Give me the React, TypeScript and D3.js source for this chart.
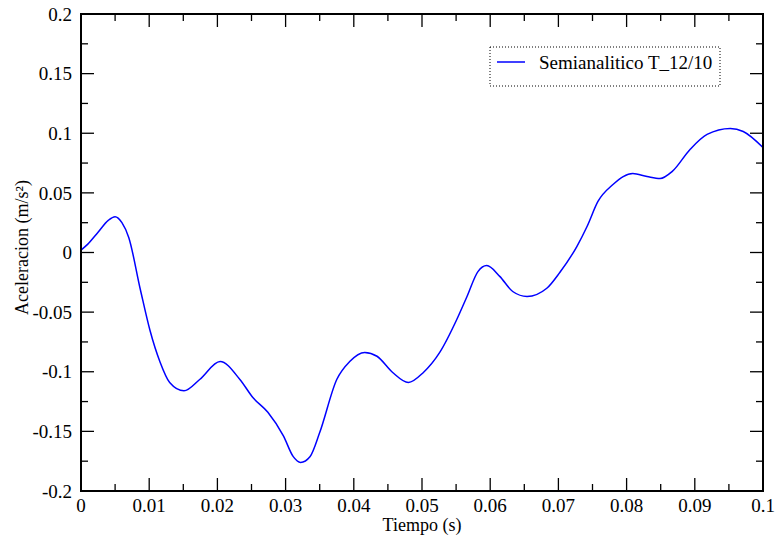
import React from "react";
import * as d3 from "d3";

const width = 776;
const height = 542;
const margin = { top: 14, right: 13, bottom: 51, left: 81 };

// tiempo (s)
const tiempo = [
  0, 0.001, 0.0025, 0.004, 0.005, 0.006, 0.007, 0.0087, 0.0101, 0.0116, 0.013,
  0.0151, 0.0174, 0.0204, 0.0233, 0.0252, 0.0274, 0.0297, 0.0311, 0.0322,
  0.0336, 0.035, 0.0375, 0.0394, 0.0416, 0.0434, 0.0457, 0.048, 0.0502,
  0.0526, 0.0551, 0.0566, 0.0582, 0.0595, 0.0614, 0.0633, 0.0654, 0.0683,
  0.0702, 0.0727, 0.0742, 0.0758, 0.078, 0.0795, 0.0809, 0.083, 0.0849,
  0.0867, 0.0893, 0.0918, 0.0952, 0.0971, 0.1,
];
// aceleracion (m/s2)
const aceleracion = [
  0.002, 0.007, 0.017, 0.027, 0.03, 0.025, 0.0126, -0.031, -0.065, -0.092,
  -0.109, -0.116, -0.1065, -0.0914, -0.1065, -0.1216, -0.134, -0.154, -0.171,
  -0.176, -0.171, -0.151, -0.1065, -0.0914, -0.0838, -0.087, -0.1006, -0.109,
  -0.1006, -0.0838, -0.0562, -0.0369, -0.016, -0.011, -0.02, -0.0327, -0.0369,
  -0.03, -0.0168, 0.005, 0.0218, 0.0428, 0.057, 0.0637, 0.0662, 0.0637, 0.062,
  0.068, 0.0864, 0.099, 0.104, 0.1015, 0.088,
];

const xTicks = [0, 0.01, 0.02, 0.03, 0.04, 0.05, 0.06, 0.07, 0.08, 0.09, 0.1];
const xTickLabels = ["0", "0.01", "0.02", "0.03", "0.04", "0.05", "0.06", "0.07", "0.08", "0.09", "0.1"];
const yTicks = [-0.2, -0.15, -0.1, -0.05, 0, 0.05, 0.1, 0.15, 0.2];
const yTickLabels = ["-0.2", "-0.15", "-0.1", "-0.05", "0", "0.05", "0.1", "0.15", "0.2"];
const seriesName = "Semianalitico T_12/10";

const font = "'Liberation Serif', 'Times New Roman', serif";

export default function App() {
  const x = d3.scaleLinear().domain([0, 0.1]).range([margin.left, width - margin.right]);
  const y = d3.scaleLinear().domain([-0.2, 0.2]).range([height - margin.bottom, margin.top]);
  const x0 = margin.left, x1 = width - margin.right;
  const y0 = height - margin.bottom, y1 = margin.top;

  const pts: [number, number][] = tiempo.map((t, i) => [t, aceleracion[i]]);
  const line = d3
    .line<[number, number]>()
    .x((d) => x(d[0]))
    .y((d) => y(d[1]))
    .curve(d3.curveMonotoneX);

  const xMinor = d3.range(0.005, 0.1, 0.01);
  const yMinor = d3.range(-0.175, 0.2, 0.05);
  const major = 13, minor = 7;

  return (
    <svg width={width} height={height} style={{ position: "absolute", left: 0, top: 0 }}>
      <rect width={width} height={height} fill="#fff" />
      <path d={line(pts) ?? ""} fill="none" stroke="#0000ff" strokeWidth={1.5} />

      <g stroke="#000" strokeWidth={1.3}>
        {xTicks.map((t) => (
          <g key={"xt" + t}>
            <line x1={x(t)} x2={x(t)} y1={y0} y2={y0 - major} />
            <line x1={x(t)} x2={x(t)} y1={y1} y2={y1 + major} />
          </g>
        ))}
        {xMinor.map((t) => (
          <g key={"xm" + t}>
            <line x1={x(t)} x2={x(t)} y1={y0} y2={y0 - minor} />
            <line x1={x(t)} x2={x(t)} y1={y1} y2={y1 + minor} />
          </g>
        ))}
        {yTicks.map((t) => (
          <g key={"yt" + t}>
            <line x1={x0} x2={x0 + major} y1={y(t)} y2={y(t)} />
            <line x1={x1} x2={x1 - major} y1={y(t)} y2={y(t)} />
          </g>
        ))}
        {yMinor.map((t) => (
          <g key={"ym" + t}>
            <line x1={x0} x2={x0 + minor} y1={y(t)} y2={y(t)} />
            <line x1={x1} x2={x1 - minor} y1={y(t)} y2={y(t)} />
          </g>
        ))}
      </g>
      <rect x={x0} y={y1} width={x1 - x0} height={y0 - y1} fill="none" stroke="#000" strokeWidth={2} />

      <g fontFamily={font} fontSize={19} fill="#000">
        {xTicks.map((t, i) => (
          <text key={"xl" + t} x={x(t)} y={y0 + 21} textAnchor="middle">
            {xTickLabels[i]}
          </text>
        ))}
        {yTicks.map((t, i) => (
          <text key={"yl" + t} x={x0 - 9} y={y(t)} dy="0.35em" textAnchor="end">
            {yTickLabels[i]}
          </text>
        ))}
      </g>

      <text x={(x0 + x1) / 2} y={531} textAnchor="middle" fontFamily={font} fontSize={18}>
        Tiempo (s)
      </text>
      <text
        transform={`translate(28, ${(y0 + y1) / 2 - 5}) rotate(-90)`}
        textAnchor="middle"
        fontFamily={font}
        fontSize={18}
      >
        Aceleracion (m/s²)
      </text>

      <g>
        <rect x={490} y={47} width={230} height={39} fill="#fff" stroke="#000" strokeWidth={1} strokeDasharray="1,2" />
        <line x1={497} x2={525} y1={62} y2={62} stroke="#0000ff" strokeWidth={1.5} />
        <text x={539} y={69} fontFamily={font} fontSize={19}>
          {seriesName}
        </text>
      </g>
    </svg>
  );
}
